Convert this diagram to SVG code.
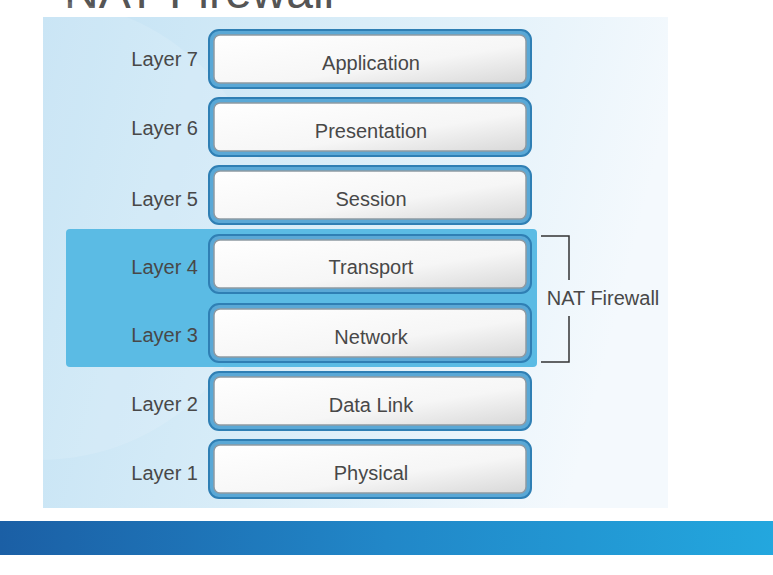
<svg xmlns="http://www.w3.org/2000/svg" width="773" height="575" viewBox="0 0 773 575">
<defs>
<linearGradient id="panel" x1="0" y1="0" x2="1" y2="0.2">
<stop offset="0" stop-color="#c3e2f4"/>
<stop offset="0.5" stop-color="#d9edf8"/>
<stop offset="1" stop-color="#f4f9fd"/>
</linearGradient>
<linearGradient id="stripe" x1="0" y1="0" x2="1" y2="0">
<stop offset="0" stop-color="#1b5fa5"/>
<stop offset="0.5" stop-color="#2187c8"/>
<stop offset="1" stop-color="#23a7de"/>
</linearGradient>
<linearGradient id="inner" x1="0" y1="0" x2="1" y2="1">
<stop offset="0" stop-color="#ffffff"/>
<stop offset="0.6" stop-color="#f6f6f6"/>
<stop offset="1" stop-color="#d8d8d8"/>
</linearGradient>
<style>
.outer{fill:#5aa8d6;stroke:#2f7fb4;stroke-width:2}
.in{fill:url(#inner);stroke:#8f9aa3;stroke-width:1.5}
.name{font-family:"Liberation Sans",Arial,sans-serif;font-size:20px;fill:#484848;text-anchor:middle}
.lay{font-family:"Liberation Sans",Arial,sans-serif;font-size:20px;fill:#484848;text-anchor:end}
.br{fill:none;stroke:#333;stroke-width:1.5}
</style>
</defs>
<rect width="773" height="575" fill="#fff"/>
<text x="64" y="8" font-family="Liberation Sans,Arial,sans-serif" font-size="48" fill="#555">NAT Firewall</text>
<rect x="43" y="17" width="625" height="491" fill="url(#panel)"/>
<circle cx="40" cy="230" r="230" fill="#ffffff" opacity="0.12"/>
<rect x="0" y="521" width="773" height="34" fill="url(#stripe)"/>
<rect x="66" y="229" width="471" height="138" rx="4" fill="#5bbbe4"/>
<g id="connectors">
<path class="br" d="M541 236 H569 V280"/>
<path class="br" d="M569 316 V362 H541"/>
</g>
<text x="603" y="305" font-family="Liberation Sans,Arial,sans-serif" font-size="20" fill="#484848" text-anchor="middle">NAT Firewall</text>
<g id="l7"><rect class="outer" x="209" y="30" width="322" height="58" rx="10"/><rect class="in" x="214" y="35" width="312" height="48" rx="6"/><text class="name" x="371" y="70">Application</text><text class="lay" x="198" y="66">Layer 7</text></g>
<g id="l6"><rect class="outer" x="209" y="98" width="322" height="58" rx="10"/><rect class="in" x="214" y="103" width="312" height="48" rx="6"/><text class="name" x="371" y="138">Presentation</text><text class="lay" x="198" y="135">Layer 6</text></g>
<g id="l5"><rect class="outer" x="209" y="166" width="322" height="58" rx="10"/><rect class="in" x="214" y="171" width="312" height="48" rx="6"/><text class="name" x="371" y="206">Session</text><text class="lay" x="198" y="206">Layer 5</text></g>
<g id="l4"><rect class="outer" x="209" y="235" width="322" height="58" rx="10"/><rect class="in" x="214" y="240" width="312" height="48" rx="6"/><text class="name" x="371" y="274">Transport</text><text class="lay" x="198" y="274">Layer 4</text></g>
<g id="l3"><rect class="outer" x="209" y="304" width="322" height="58" rx="10"/><rect class="in" x="214" y="309" width="312" height="48" rx="6"/><text class="name" x="371" y="344">Network</text><text class="lay" x="198" y="342">Layer 3</text></g>
<g id="l2"><rect class="outer" x="209" y="372" width="322" height="58" rx="10"/><rect class="in" x="214" y="377" width="312" height="48" rx="6"/><text class="name" x="371" y="412">Data Link</text><text class="lay" x="198" y="411">Layer 2</text></g>
<g id="l1"><rect class="outer" x="209" y="440" width="322" height="58" rx="10"/><rect class="in" x="214" y="445" width="312" height="48" rx="6"/><text class="name" x="371" y="480">Physical</text><text class="lay" x="198" y="480">Layer 1</text></g>
</svg>
